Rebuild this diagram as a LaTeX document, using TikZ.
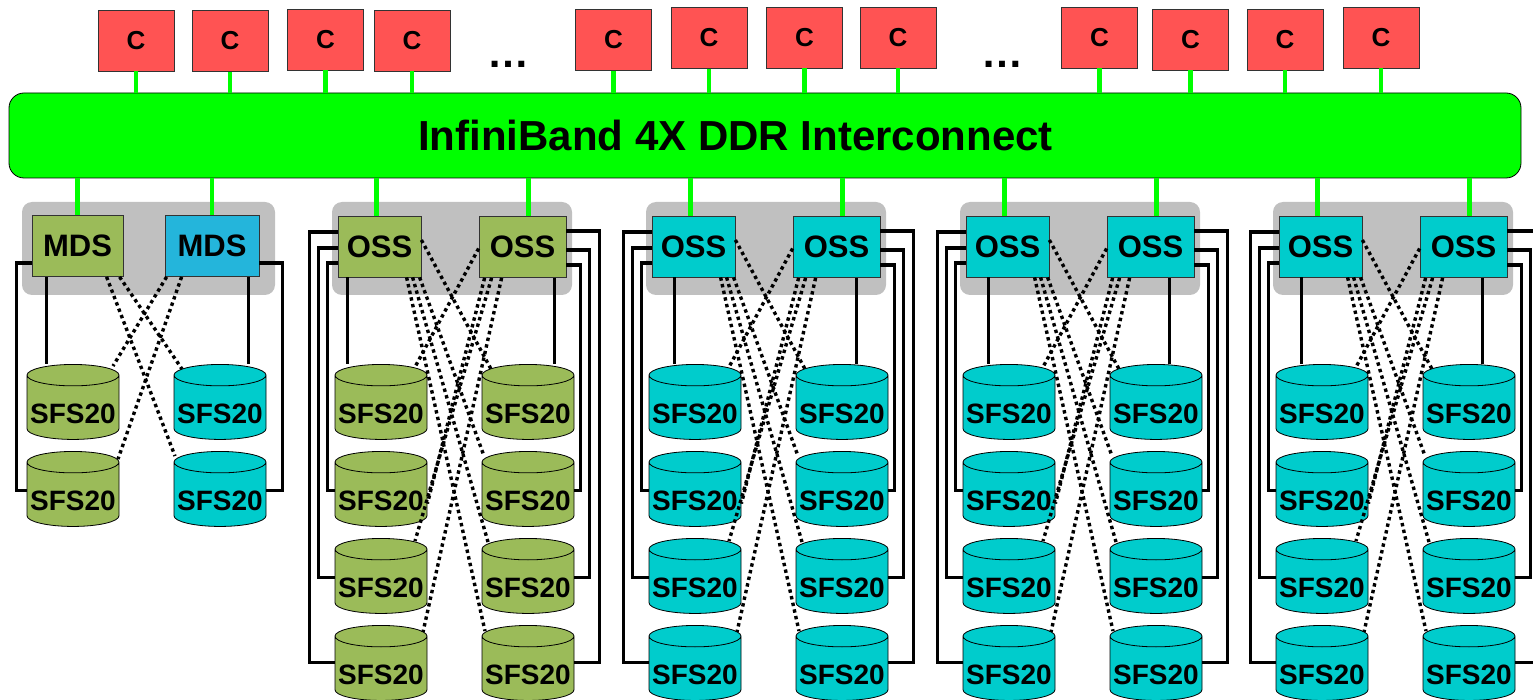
\documentclass[tikz,border=0pt]{standalone}
\usepackage{fontspec}
\setmainfont{Liberation Sans}
\usetikzlibrary{shapes.geometric,calc}

\definecolor{cred}{RGB}{255,83,83}
\definecolor{busgreen}{RGB}{0,255,0}
\definecolor{sfsgreen}{RGB}{155,187,89}
\definecolor{sfscyan}{RGB}{0,204,204}
\definecolor{mdsblue}{RGB}{36,181,219}
\definecolor{grpgray}{RGB}{192,192,192}

\begin{document}
\begin{tikzpicture}[x=0.5pt,y=-0.5pt,
		cbox/.style={
		% red client box
		draw=black!80, fill=cred,
		minimum width=38pt, minimum height=30.5pt, inner sep=0pt,
		font=\bfseries\fontsize{13}{13}\selectfont
		},
		srv/.style={
		% MDS / OSS server
		draw=black!80, fill=#1,
		minimum height=30.5pt, inner sep=0pt,
		font=\bfseries\fontsize{15.5}{15.5}\selectfont
		},
		disk/.style={
		% SFS20 array
		cylinder, shape border rotate=90, aspect=0.25,
		draw=black, fill=#1,
		minimum width=46pt, minimum height=37.5pt, inner sep=0pt,
		text height=15.5pt, text depth=0pt,
		font=\bfseries\fontsize{14}{14}\selectfont
		},
		grp/.style={fill=grpgray, rounded corners=5pt, minimum height=46.5pt},
		stub/.style={draw=busgreen, line width=2.2pt},
		link/.style={line width=1.2pt},
		wire/.style={line width=1.6pt},
		cross/.style={line width=1.7pt, dash pattern=on 1.7pt off 1.7pt}
	]
	\useasboundingbox (0,0) rectangle (1533,700);
	\clip (0,0) rectangle (1533,700);

	% interconnect
	\node (bus)[draw=black, fill=busgreen, rounded corners=7.5pt,
		minimum width=756pt, minimum height=42.5pt,
		label={[name=bustext, xshift=-14.75pt, font=\bfseries\fontsize{21}{21}\selectfont]center:InfiniBand 4X DDR Interconnect}]
		at (765,135.5) {};

	% clients
	\foreach \i/\x/\y in {1/136/40.5, 2/230/41, 3/325.5/39.5, 4/412/40.5,
		5/613.5/40, 6/709/38, 7/804.5/37.5, 8/898/37.5,
		9/1099.5/37.5, 10/1190.5/39.5, 11/1285/39.5, 12/1381/37.5} {
		\node (c\i)[cbox] at (\x,\y) {C};
		\draw[stub] (c\i.south) -- (c\i.south |- bus.north);
	}
	\node (dotsA)[anchor=base, font=\bfseries\fontsize{21}{21}\selectfont] at (508,68) {…};
	\node (dotsB)[anchor=base, font=\bfseries\fontsize{21}{21}\selectfont] at (1002,68) {…};

	% metadata group
	\node (g1)[grp, minimum width=126.5pt] at (148.5,248.5) {};
	\node (m1)[srv=sfsgreen, minimum width=45.5pt] at (77.5,246) {MDS};
	\node (m2)[srv=mdsblue, minimum width=47pt] at (212,246) {MDS};
	\node (g1-l1)[disk=sfsgreen] at (73,407.5) {SFS20};
	\node (g1-l2)[disk=sfsgreen] at (73,494.5) {SFS20};
	\node (g1-r1)[disk=sfscyan] at (220,407.5) {SFS20};
	\node (g1-r2)[disk=sfscyan] at (220,494.5) {SFS20};

	\draw[stub] (m1.north) -- (m1.north |- bus.south);
	\draw[stub] (m2.north) -- (m2.north |- bus.south);
	\path ($(m1.south west)+(15,0)$) coordinate (m1t) ($(m2.south east)+(-11,0)$) coordinate (m2t);
	\draw[link] (m1t) -- (m1t |- g1-l1.north);
	\draw[link] (m2t) -- (m2t |- g1-r1.north);
	\draw[wire] ($(m1.west)+(0,17)$) -- ++(-15,0) |- ($(g1-l2.west)+(0,-4)$);
	\draw[wire] ($(m2.east)+(0,17)$) -- ++(23,0) |- ($(g1-r2.east)+(0,-4)$);
	\draw[cross] ($(m1.south west)+(88,0)$) -- ($(g1-r1.north)+(-38,5)$);
	\draw[cross] ($(m1.south west)+(75,0)$) -- ($(g1-r2.north)+(-45,5)$);
	\draw[cross] ($(m2.south west)+(2,0)$) -- ($(g1-l1.north)+(40,2)$);
	\draw[cross] ($(m2.south west)+(17,0)$) -- ($(g1-l2.north)+(45,8)$);

	% object storage groups
	\foreach \g/\gx/\col/\ta/\tb in {2/332/sfsgreen/10/12, 3/646/sfscyan/23/24,
		4/960/sfscyan/23/25, 5/1273/sfscyan/23/25} {
		\node (g\g)[grp, minimum width=120pt] at (\gx+120,248.5) {};
		\node (g\g-s1)[srv=\col, minimum width=41.5pt] at (\gx+47.5,246.5) {OSS};
		\node (g\g-s2)[srv=\col, minimum width=43.5pt] at (\gx+190.5,247) {OSS};
		\foreach \r/\y in {1/407.5, 2/494.5, 3/581.5, 4/668.5} {
			\node (g\g-l\r)[disk=\col] at (\gx+49,\y) {SFS20};
			\node (g\g-r\r)[disk=\col] at (\gx+196,\y) {SFS20};
		}
		\path ($(g\g-s1.north)+(-3,0)$) coordinate (g\g-u1) ($(g\g-s2.north)+(6,0)$) coordinate (g\g-u2);
		\draw[stub] (g\g-u1) -- (g\g-u1 |- bus.south);
		\draw[stub] (g\g-u2) -- (g\g-u2 |- bus.south);
		\path ($(g\g-s1.south west)+(\ta,0)$) coordinate (g\g-t1) ($(g\g-s2.south east)+(-\tb,0)$) coordinate (g\g-t2);
		\draw[link] (g\g-t1) -- (g\g-t1 |- g\g-l1.north);
		\draw[link] (g\g-t2) -- (g\g-t2 |- g\g-r1.north);
		% back-end cabling
		\draw[wire] ($(g\g-s1.west)+(0,16.5)$) -- ++(-10,0) |- ($(g\g-l2.west)+(0,-4)$);
		\draw[wire] ($(g\g-s1.west)+(0,1.5)$) -- ++(-19,0) |- ($(g\g-l3.west)+(0,-4)$);
		\draw[wire] ($(g\g-s1.west)+(0,-14.5)$) -- ++(-28,0) |- ($(g\g-l4.west)+(0,-6)$);
		\draw[wire] ($(g\g-s2.east)+(0,18)$) -- ++(14,0) |- ($(g\g-r2.east)+(0,-4)$);
		\draw[wire] ($(g\g-s2.east)+(0,3)$) -- ++(23,0) |- ($(g\g-r3.east)+(0,-4)$);
		\draw[wire] ($(g\g-s2.east)+(0,-16)$) -- ++(33,0) |- ($(g\g-r4.east)+(0,-6)$);
		% failover paths
		\draw[cross] ($(g\g-s1.east)+(0,-6.5)$) -- ($(g\g-r1.north)+(-37,5)$);
		\draw[cross] ($(g\g-s1.south west)+(82,0)$) -- ($(g\g-r2.north)+(-44,5)$);
		\draw[cross] ($(g\g-s1.south west)+(75,0)$) -- ($(g\g-r3.north)+(-40,4)$);
		\draw[cross] ($(g\g-s1.south west)+(69,0)$) -- ($(g\g-r4.north)+(-43,6)$);
		\draw[cross] ($(g\g-s2.west)+(0,1.5)$) -- ($(g\g-l1.north)+(34,3)$);
		\draw[cross] ($(g\g-s2.south west)+(6,0)$) -- ($(g\g-l2.east)+(0,9)$);
		\draw[cross] ($(g\g-s2.south west)+(13,0)$) -- ($(g\g-l3.north)+(34,3)$);
		\draw[cross] ($(g\g-s2.south west)+(23,0)$) -- ($(g\g-l4.north)+(42,7)$);
	}
\end{tikzpicture}
\end{document}
